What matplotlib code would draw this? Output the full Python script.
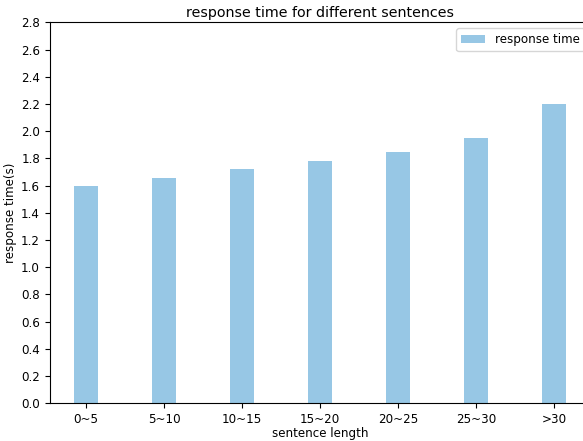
import matplotlib
matplotlib.use("Agg")
import matplotlib.pyplot as plt
import numpy as np

categories = ["0~5", "5~10", "10~15", "15~20", "20~25", "25~30", ">30"]
response_time = [1.60, 1.655, 1.72, 1.78, 1.85, 1.95, 2.20]
yticks = [round(0.2 * i, 1) for i in range(15)]

fs = 8.6
plt.rcParams['font.family'] = ['DejaVu Sans']
plt.rcParams['font.size'] = fs

fig = plt.figure(figsize=(5.83, 4.41), dpi=100)
ax = fig.add_axes([49.7 / 583, 1 - 403.3 / 441, (590.3 - 49.7) / 583, (403.3 - 22.4) / 441])

x = np.arange(len(categories))
ax.bar(x, response_time, width=0.3, color="#97c7e5", label="response time")
ax.set_xticks(x)
ax.set_xticklabels(categories, fontsize=fs)
ax.set_yticks(yticks)
ax.set_yticklabels([f"{v:.1f}" for v in yticks], fontsize=fs)
ax.set_ylim(0, 2.8)
ax.set_xlabel("sentence length", fontsize=fs, labelpad=0.5)
ax.set_ylabel("response time(s)", fontsize=fs, labelpad=3)
ax.set_title("response time for different sentences", fontsize=10.3, pad=4)
ax.legend(loc="upper right", fontsize=fs)

fig.savefig("out.png", dpi=100)
